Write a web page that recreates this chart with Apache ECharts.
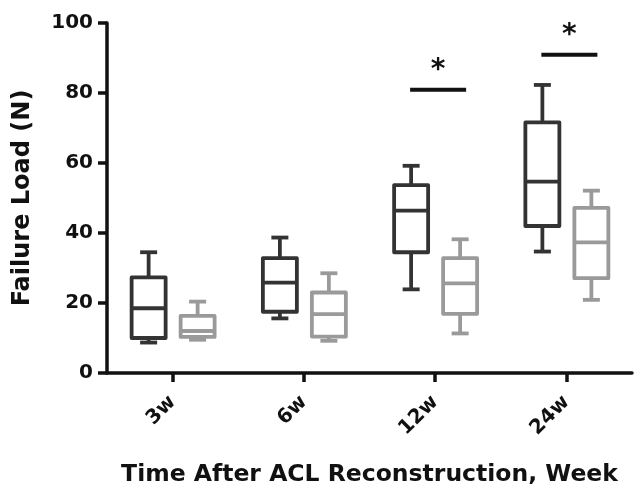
<!DOCTYPE html>
<html>
<head>
<meta charset="UTF-8">
<title>Failure Load</title>
<script src="https://cdn.jsdelivr.net/npm/echarts@6/dist/echarts.min.js"></script>
<style>
  html, body { margin: 0; padding: 0; background: #fff; }
  #main { width: 634px; height: 488px; }
</style>
</head>
<body>
<div id="main"></div>
<script>
// categories and box stats: [min, q1, median, q3, max]
var weeks = ['3w', '6w', '12w', '24w'];
var darkBoxes = [
    [8.7, 10, 18.5, 27.3, 34.5],
    [15.6, 17.5, 25.8, 32.8, 38.7],
    [23.9, 34.5, 46.4, 53.7, 59.2],
    [34.7, 42, 54.7, 71.6, 82.3]
];
var grayBoxes = [
    [9.5, 10.3, 12, 16.3, 20.4],
    [9.2, 10.4, 16.8, 23, 28.5],
    [11.3, 16.9, 25.6, 32.8, 38.2],
    [20.9, 27.1, 37.3, 47.2, 52.1]
];
// significance bars
var sigWeeks = ['12w', '24w'];
var sigLevels = [80.9, 90.9];

var FONT = 'DejaVu Sans';

function toRows(boxes) {
    return boxes.map(function (b, i) { return [i].concat(b); });
}

function boxRenderer(offset, color) {
    return function (params, api) {
        var c = api.value(0);
        var x = api.coord([c, 0])[0] + offset;
        var y = [1, 2, 3, 4, 5].map(function (d) { return api.coord([c, api.value(d)])[1]; });
        var hw = 17, cw = 8.5;
        var st = { stroke: color, lineWidth: 3.8, fill: null, lineJoin: 'round' };
        return {
            type: 'group',
            children: [
                { type: 'line', shape: { x1: x, y1: y[3], x2: x, y2: y[4] }, style: st },
                { type: 'line', shape: { x1: x - cw, y1: y[4], x2: x + cw, y2: y[4] }, style: st },
                { type: 'line', shape: { x1: x, y1: y[1], x2: x, y2: y[0] }, style: st },
                { type: 'line', shape: { x1: x - cw, y1: y[0], x2: x + cw, y2: y[0] }, style: st },
                { type: 'rect', shape: { x: x - hw, y: y[3], width: hw * 2, height: y[1] - y[3] }, style: st },
                { type: 'line', shape: { x1: x - hw, y1: y[2], x2: x + hw, y2: y[2] }, style: st }
            ]
        };
    };
}

var chart = echarts.init(document.getElementById('main'));
chart.setOption({
    animation: false,
    grid: { left: 107, right: 2, top: 23, bottom: 115, containLabel: false, outerBoundsMode: 'none' },
    xAxis: {
        type: 'category',
        data: weeks,
        name: 'Time After ACL Reconstruction, Week',
        nameLocation: 'middle',
        nameGap: 90,
        nameTextStyle: { fontFamily: FONT, fontWeight: 'bold', fontSize: 23.5, color: '#111' },
        axisLine: { lineStyle: { color: '#111', width: 3.5 } },
        axisTick: { show: true, inside: false, alignWithLabel: true, length: 9, lineStyle: { color: '#111', width: 3.5 } },
        axisLabel: { rotate: 45, margin: 26, fontFamily: FONT, fontWeight: 'bold', fontSize: 20, color: '#111' }
    },
    yAxis: {
        type: 'value',
        position: 'left',
        min: 0,
        max: 100,
        interval: 20,
        name: 'Failure Load (N)',
        nameLocation: 'middle',
        nameGap: 72,
        nameTextStyle: { fontFamily: FONT, fontWeight: 'bold', fontSize: 24, color: '#111' },
        axisLine: { show: true, onZero: false, lineStyle: { color: '#111', width: 3.5 } },
        axisTick: { show: true, inside: false, length: 9, lineStyle: { color: '#111', width: 3.5 } },
        axisLabel: { margin: 14, fontFamily: FONT, fontWeight: 'bold', fontSize: 20, color: '#111' },
        splitLine: { show: false }
    },
    series: [
        {
            type: 'custom',
            name: 'dark',
            renderItem: boxRenderer(-24, '#333'),
            encode: { x: 0, y: [1, 2, 3, 4, 5] },
            data: toRows(darkBoxes)
        },
        {
            type: 'custom',
            name: 'gray',
            renderItem: boxRenderer(25, '#9a9a9a'),
            encode: { x: 0, y: [1, 2, 3, 4, 5] },
            data: toRows(grayBoxes)
        },
        {
            type: 'custom',
            name: 'sig',
            renderItem: function (params, api) {
                var p = api.coord([api.value(0), api.value(1)]);
                return {
                    type: 'group',
                    children: [
                        { type: 'line', shape: { x1: p[0] - 25, y1: p[1], x2: p[0] + 31, y2: p[1] },
                          style: { stroke: '#111', lineWidth: 4 } },
                        { type: 'text', x: p[0] + 3, y: p[1] - 19,
                          style: { text: '*', fontFamily: FONT, fontWeight: 'bold', fontSize: 28,
                                   fill: '#111', align: 'center', verticalAlign: 'middle' } }
                    ]
                };
            },
            encode: { x: 0, y: 1 },
            data: sigWeeks.map(function (w, i) { return [weeks.indexOf(w), sigLevels[i]]; })
        }
    ]
});
</script>
</body>
</html>
